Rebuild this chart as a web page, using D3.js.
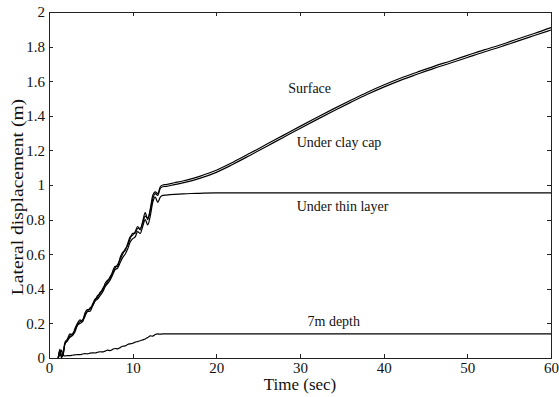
<!DOCTYPE html>
<html lang="en">
<head>
<meta charset="utf-8">
<title>Lateral displacement</title>
<script src="https://cdn.jsdelivr.net/npm/d3@7"></script>
<style>
  body { margin: 0; background: #fff; }
  svg text { font-family: "Liberation Serif", "Times New Roman", serif; fill: #111; }
  .axis path, .axis line { fill: none; stroke: #222; shape-rendering: crispEdges; }
  .axis text { font-size: 15px; }
  .curve { fill: none; stroke: #000; stroke-width: 1.2; }
  .lbl { font-size: 14px; }
</style>
</head>
<body>
<script>
var w = 559, h = 397;
var margin = {left: 49, right: 8, top: 12, bottom: 39};

// time (sec)
var time = [1.1, 1.3, 1.5, 1.7, 1.9, 2.2, 2.5, 2.8, 3.1, 3.4, 3.7, 4.0, 4.3, 4.6, 4.9,
  5.2, 5.5, 5.8, 6.1, 6.4, 6.7, 7.0, 7.3, 7.6, 7.9, 8.2, 8.5, 8.8, 9.1, 9.4, 9.7,
  10.0, 10.3, 10.6, 10.9, 11.2, 11.5, 11.8, 12.1, 12.4, 12.7, 13.0, 13.3, 13.6,
  14, 15, 16, 17, 18, 20, 22, 24, 26, 28, 30, 32, 34, 36, 38, 40, 42, 44, 46, 48,
  50, 52, 54, 56, 58, 60];

var surface = [0, 0.05, 0.01, 0.03, 0.09, 0.11, 0.14, 0.13, 0.17, 0.20, 0.22, 0.21, 0.26, 0.28, 0.28,
  0.31, 0.34, 0.35, 0.38, 0.39, 0.43, 0.45, 0.46, 0.50, 0.53, 0.53, 0.58, 0.61, 0.62, 0.66, 0.70,
  0.71, 0.73, 0.76, 0.74, 0.79, 0.84, 0.80, 0.86, 0.94, 0.96, 0.95, 0.99, 1.00,
  1.003, 1.013, 1.023, 1.035, 1.05, 1.085, 1.132, 1.183, 1.235, 1.287, 1.339, 1.39, 1.44, 1.488, 1.535, 1.578,
  1.617, 1.652, 1.686, 1.717, 1.749, 1.781, 1.811, 1.844, 1.876, 1.91];

var clayCap = [0, 0.04, 0.00, 0.03, 0.08, 0.10, 0.13, 0.14, 0.16, 0.19, 0.21, 0.22, 0.25, 0.27, 0.29,
  0.30, 0.33, 0.36, 0.37, 0.40, 0.42, 0.44, 0.47, 0.49, 0.52, 0.54, 0.57, 0.60, 0.63, 0.65, 0.69,
  0.72, 0.72, 0.75, 0.75, 0.78, 0.82, 0.81, 0.85, 0.92, 0.95, 0.94, 0.98, 0.99,
  0.992, 1.002, 1.012, 1.024, 1.038, 1.073, 1.12, 1.171, 1.223, 1.275, 1.327, 1.378, 1.428, 1.476, 1.523, 1.566,
  1.605, 1.64, 1.674, 1.705, 1.737, 1.769, 1.799, 1.832, 1.864, 1.896];

var thinLayer = [0, 0.04, 0.01, 0.02, 0.08, 0.10, 0.12, 0.13, 0.15, 0.19, 0.20, 0.21, 0.24, 0.27, 0.27,
  0.30, 0.33, 0.34, 0.36, 0.38, 0.41, 0.43, 0.45, 0.48, 0.51, 0.52, 0.55, 0.58, 0.60, 0.63, 0.67,
  0.69, 0.70, 0.73, 0.72, 0.76, 0.80, 0.77, 0.82, 0.90, 0.93, 0.90, 0.93, 0.94,
  0.942, 0.946, 0.949, 0.951, 0.952, 0.954, 0.955, 0.955, 0.955, 0.955, 0.955, 0.955, 0.955, 0.955, 0.955, 0.955,
  0.955, 0.955, 0.955, 0.955, 0.955, 0.955, 0.955, 0.955, 0.955, 0.955];

var depth7m = [0, 0.02, 0.045, 0.015, 0.012, 0.014, 0.014, 0.016, 0.018, 0.02, 0.019, 0.023, 0.025, 0.024, 0.028,
  0.03, 0.029, 0.033, 0.036, 0.035, 0.04, 0.045, 0.043, 0.05, 0.055, 0.053, 0.06, 0.068, 0.07, 0.078, 0.082,
  0.085, 0.092, 0.095, 0.1, 0.105, 0.11, 0.118, 0.128, 0.126, 0.136, 0.139, 0.138, 0.139,
  0.139, 0.139, 0.139, 0.139, 0.139, 0.139, 0.139, 0.139, 0.139, 0.139, 0.139, 0.139, 0.139, 0.139, 0.139, 0.139,
  0.139, 0.139, 0.139, 0.139, 0.139, 0.139, 0.139, 0.139, 0.139, 0.139];

var xTicks = [0, 10, 20, 30, 40, 50, 60];
var yTicks = [0, 0.2, 0.4, 0.6, 0.8, 1, 1.2, 1.4, 1.6, 1.8, 2];

var labels = [
  {text: "Surface", t: 28.6, v: 1.532},
  {text: "Under clay cap", t: 29.6, v: 1.222},
  {text: "Under thin layer", t: 29.6, v: 0.852},
  {text: "7m depth", t: 30.9, v: 0.187}
];

var svg = d3.select("body").append("svg")
  .attr("width", w)
  .attr("height", h);

var xScale = d3.scaleLinear().domain([0, 60]).range([margin.left, w - margin.right]);
var yScale = d3.scaleLinear().domain([0, 2]).range([h - margin.bottom, margin.top]);

var fmt = function(d) { return d3.format("")(+d.toFixed(1)); };

svg.append("g").attr("class", "axis")
  .attr("transform", "translate(0," + yScale(0) + ")")
  .call(d3.axisBottom(xScale).tickValues(xTicks).tickFormat(fmt).tickSizeInner(-4).tickSizeOuter(0).tickPadding(4));
svg.append("g").attr("class", "axis")
  .attr("transform", "translate(0," + yScale(2) + ")")
  .call(d3.axisTop(xScale).tickValues(xTicks).tickFormat("").tickSizeInner(-4).tickSizeOuter(0));
svg.append("g").attr("class", "axis")
  .attr("transform", "translate(" + xScale(0) + ",0)")
  .call(d3.axisLeft(yScale).tickValues(yTicks).tickFormat(fmt).tickSizeInner(-4).tickSizeOuter(0).tickPadding(4));
svg.append("g").attr("class", "axis")
  .attr("transform", "translate(" + xScale(60) + ",0)")
  .call(d3.axisRight(yScale).tickValues(yTicks).tickFormat("").tickSizeInner(-4).tickSizeOuter(0));

svg.selectAll(".axis").attr("font-family", null);

var line = d3.line()
  .x(function(d, i) { return xScale(time[i]); })
  .y(function(d) { return yScale(d); })
  .curve(d3.curveMonotoneX);

[surface, clayCap, thinLayer, depth7m].forEach(function(s) {
  svg.append("path").attr("class", "curve").attr("d", line(s));
});

svg.selectAll("text.lbl")
  .data(labels)
  .enter()
  .append("text")
  .attr("class", "lbl")
  .attr("x", function(d) { return xScale(d.t); })
  .attr("y", function(d) { return yScale(d.v); })
  .text(function(d) { return d.text; });

svg.append("text")
  .attr("x", xScale(30))
  .attr("y", h - 7)
  .attr("text-anchor", "middle")
  .style("font-size", "17px")
  .text("Time (sec)");

svg.append("text")
  .attr("transform", "translate(23," + (yScale(1) + 12) + ") rotate(-90) scale(1.15,1)")
  .attr("text-anchor", "middle")
  .style("font-size", "17px")
  .text("Lateral displacement (m)");
</script>
</body>
</html>
